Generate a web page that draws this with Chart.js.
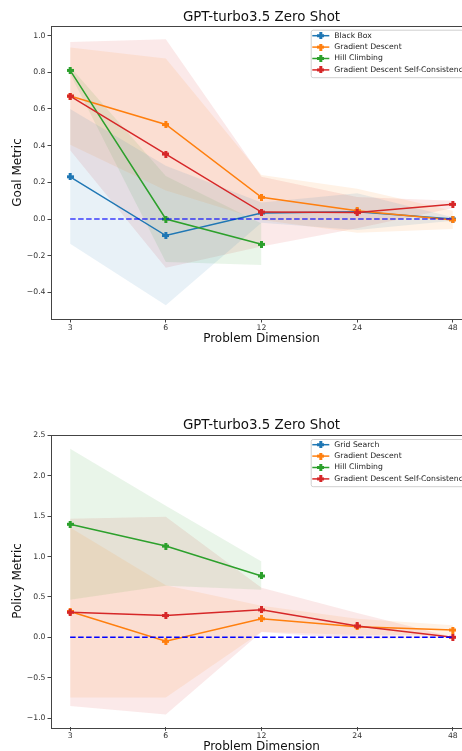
<!DOCTYPE html>
<html lang="en">
<head>
<meta charset="UTF-8">
<title>GPT-turbo3.5 Zero Shot</title>
<script src="https://cdn.jsdelivr.net/npm/chart.js"></script>
<style>
  html, body { margin: 0; padding: 0; background: #fff; overflow: hidden; width: 462px; height: 751px; }
  canvas { position: absolute; left: 0; }
  #goalChart { top: 0; }
  #policyChart { top: 375px; }
</style>
</head>
<body>
<canvas id="goalChart" width="480" height="375"></canvas>
<canvas id="policyChart" width="480" height="400"></canvas>
<script>
// x categories (problem dimension), plotted at evenly spaced positions
const dims = ['3', '6', '12', '24', '48'];
const xIdx = [0, 1, 2, 3, 4];
const baseline = [0, 0, 0, 0, 0];

// --- top chart: goal metric ---
const goalNames = ['Black Box', 'Gradient Descent', 'Hill Climbing', 'Gradient Descent Self-Consistency'];
const goalBB = [0.23, -0.09, 0.033, 0.04, 0.0];
const goalBBLo = [-0.135, -0.47, -0.02, -0.06, -0.01];
const goalBBHi = [0.60, 0.29, 0.09, 0.14, 0.01];
const goalGD = [0.67, 0.515, 0.118, 0.045, -0.005];
const goalGDLo = [0.405, 0.155, -0.005, -0.075, -0.055];
const goalGDHi = [0.935, 0.875, 0.24, 0.165, 0.045];
const goalHC = [0.81, 0.0, -0.138];
const goalHCLo = [0.79, -0.235, -0.25];
const goalHCHi = [0.83, 0.235, -0.025];
const goalSC = [0.67, 0.354, 0.038, 0.035, 0.08];
const goalSCLo = [0.375, -0.265, -0.15, -0.05, 0.06];
const goalSCHi = [0.965, 0.98, 0.23, 0.12, 0.10];
const goalTicks = [-0.4, -0.2, 0.0, 0.2, 0.4, 0.6, 0.8, 1.0];

// --- bottom chart: policy metric ---
const policyNames = ['Grid Search', 'Gradient Descent', 'Hill Climbing', 'Gradient Descent Self-Consistency'];
const policyGS = [null, null, null, null, null];
const policyGD = [0.32, -0.05, 0.23, 0.13, 0.09];
const policyGDLo = [-0.745, -0.745, 0.07, 0.03, 0.03];
const policyGDHi = [1.36, 0.645, 0.39, 0.23, 0.15];
const policyHC = [1.40, 1.13, 0.76];
const policyHCLo = [0.465, 0.64, 0.59];
const policyHCHi = [2.335, 1.63, 0.94];
const policySC = [0.31, 0.27, 0.34, 0.14, 0.0];
const policySCLo = [-0.85, -0.955, 0.065, -0.02, -0.005];
const policySCHi = [1.47, 1.495, 0.615, 0.30, 0.005];
const policyTicks = [-1.0, -0.5, 0.0, 0.5, 1.0, 1.5, 2.0, 2.5];

const colors = ['#1f77b4', '#ff7f0e', '#2ca02c', '#d62728'];
const bands = ['rgba(31,119,180,0.1)', 'rgba(255,127,14,0.1)', 'rgba(44,160,44,0.1)', 'rgba(214,39,40,0.1)'];
const FONT = "'DejaVu Sans', sans-serif";
Chart.defaults.font.family = FONT;

// filled plus marker like matplotlib 'P'
function plusMarker(color) {
  const c = document.createElement('canvas');
  c.width = 7; c.height = 7;
  const g = c.getContext('2d');
  g.fillStyle = color;
  g.fillRect(2, 0, 3, 7);
  g.fillRect(0, 2, 7, 3);
  return c;
}
const markers = colors.map(plusMarker);

const pts = arr => arr.map((v, i) => ({ x: xIdx[i], y: v }));
const fmt = v => (v < 0 ? '\u2212' : '') + Math.abs(v).toFixed(1);

// axes box (all four spines)
const frame = {
  id: 'frame',
  afterDatasetsDraw(chart) {
    const { ctx, chartArea: a } = chart;
    ctx.save();
    ctx.strokeStyle = '#444';
    ctx.lineWidth = 1;
    ctx.strokeRect(Math.round(a.left) + 0.5, Math.round(a.top) + 0.5,
      Math.round(a.right - a.left), Math.round(a.bottom - a.top));
    ctx.restore();
  }
};

// legend drawn inside the plot, upper right
const insideLegend = {
  id: 'insideLegend',
  afterDraw(chart, args, opts) {
    const { ctx, chartArea: a } = chart;
    const items = chart.data.datasets.filter(d => d.inLegend);
    const x0 = opts.left, y0 = a.top + opts.top;
    const rowH = 11.4;
    const h = opts.first + rowH * (items.length - 1) + 7.3;
    ctx.save();
    ctx.fillStyle = 'rgba(255,255,255,0.8)';
    ctx.strokeStyle = '#d0d0d0';
    ctx.lineWidth = 1;
    ctx.beginPath();
    ctx.roundRect(x0 + 0.5, y0 + 0.5, a.right - 3 - x0, h, 2);
    ctx.fill();
    ctx.stroke();
    ctx.font = '7.7px ' + FONT;
    ctx.textBaseline = 'middle';
    ctx.fillStyle = '#222';
    items.forEach((d, i) => {
      const y = y0 + opts.first + i * rowH;
      ctx.strokeStyle = d.borderColor;
      ctx.lineWidth = 1.5;
      ctx.beginPath();
      ctx.moveTo(x0 + 1.6, y);
      ctx.lineTo(x0 + 18.6, y);
      ctx.stroke();
      ctx.drawImage(d.pointStyle, x0 + 10.1 - 3.5, y - 3.5);
      ctx.fillText(d.label, x0 + 23.6, y);
    });
    ctx.restore();
  }
};

function buildChart(id, o) {
  const datasets = [];
  o.series.forEach((s, k) => {
    datasets.push({
      label: s.name, inLegend: true, data: pts(s.mean),
      borderColor: colors[k], backgroundColor: colors[k], borderWidth: 1.5,
      pointStyle: markers[k], pointRadius: 4, fill: false, order: 4 - k
    });
  });
  o.series.forEach((s, k) => {
    if (!s.hi) return;
    datasets.push({ label: s.name + ' hi', data: pts(s.hi), fill: '+1', backgroundColor: bands[k],
      borderColor: 'transparent', borderWidth: 0, pointRadius: 0, order: 10 });
    datasets.push({ label: s.name + ' lo', data: pts(s.lo), fill: false,
      borderColor: 'transparent', borderWidth: 0, pointRadius: 0, order: 10 });
  });
  datasets.push({ label: 'zero', data: pts(baseline), borderColor: o.baseColor, borderDash: [5.5, 2.5],
    borderWidth: 1.5, pointRadius: 0, fill: false, order: 0 });

  new Chart(document.getElementById(id), {
    type: 'line',
    data: { datasets },
    plugins: [frame, insideLegend],
    options: {
      responsive: false,
      animation: false,
      events: [],
      layout: { padding: { top: o.padTop, right: 8, left: 0, bottom: 0 } },
      plugins: {
        legend: { display: false },
        tooltip: { enabled: false },
        insideLegend: { left: 310.7, top: o.legTop, first: o.legFirst }
      },
      scales: {
        // top axis only carries the title, so it is centred over the plot area
        xTop: {
          type: 'linear', position: 'top', min: -0.2, max: 4.2,
          afterFit: s => { s.height = 26; },
          ticks: { display: false },
          grid: { display: false },
          border: { display: false },
          title: { display: true, text: 'GPT-turbo3.5 Zero Shot', color: '#111',
            font: { size: 13.4 }, padding: { top: 9, bottom: 0 } }
        },
        x: {
          type: 'linear', min: -0.2, max: 4.2,
          afterBuildTicks: s => { s.ticks = xIdx.map(v => ({ value: v })); },
          afterFit: s => { s.height = o.xHeight; },
          ticks: { callback: v => dims[v], color: '#333', font: { size: 7.7 }, padding: 1, maxRotation: 0 },
          grid: { drawOnChartArea: false, drawTicks: true, tickLength: 3.5, tickColor: '#444' },
          border: { display: false },
          title: { display: true, text: 'Problem Dimension', color: '#111', font: { size: 12 },
            padding: { top: 0, bottom: o.xTitlePad } }
        },
        y: {
          min: o.yMin, max: o.yMax,
          afterBuildTicks: s => { s.ticks = o.yTicks.map(v => ({ value: v })); },
          afterFit: s => { s.width = 51; },
          ticks: { callback: v => fmt(v), color: '#333', font: { size: 7.7 }, padding: 2 },
          grid: { drawOnChartArea: false, drawTicks: true, tickLength: 3.5, tickColor: '#444' },
          border: { display: false },
          title: { display: true, text: o.yLabel, color: '#111', font: { size: 12 },
            padding: { top: 11, bottom: 0 } }
        }
      }
    }
  });
}

buildChart('goalChart', {
  series: [
    { name: goalNames[0], mean: goalBB, lo: goalBBLo, hi: goalBBHi },
    { name: goalNames[1], mean: goalGD, lo: goalGDLo, hi: goalGDHi },
    { name: goalNames[2], mean: goalHC, lo: goalHCLo, hi: goalHCHi },
    { name: goalNames[3], mean: goalSC, lo: goalSCLo, hi: goalSCHi }
  ],
  yMin: -0.545, yMax: 1.052, yTicks: goalTicks, yLabel: 'Goal Metric',
  padTop: 0, xHeight: 56, xTitlePad: 28.8, legTop: 3.7, legFirst: 6,
  baseColor: 'rgba(0,0,255,0.75)'
});

buildChart('policyChart', {
  series: [
    { name: policyNames[0], mean: policyGS },
    { name: policyNames[1], mean: policyGD, lo: policyGDLo, hi: policyGDHi },
    { name: policyNames[2], mean: policyHC, lo: policyHCLo, hi: policyHCHi },
    { name: policyNames[3], mean: policySC, lo: policySCLo, hi: policySCHi }
  ],
  yMin: -1.115, yMax: 2.51, yTicks: policyTicks, yLabel: 'Policy Metric',
  padTop: 33.7, xHeight: 47.7, xTitlePad: 21.1, legTop: 4.3, legFirst: 5.7,
  baseColor: '#0000ff'
});
</script>
</body>
</html>
